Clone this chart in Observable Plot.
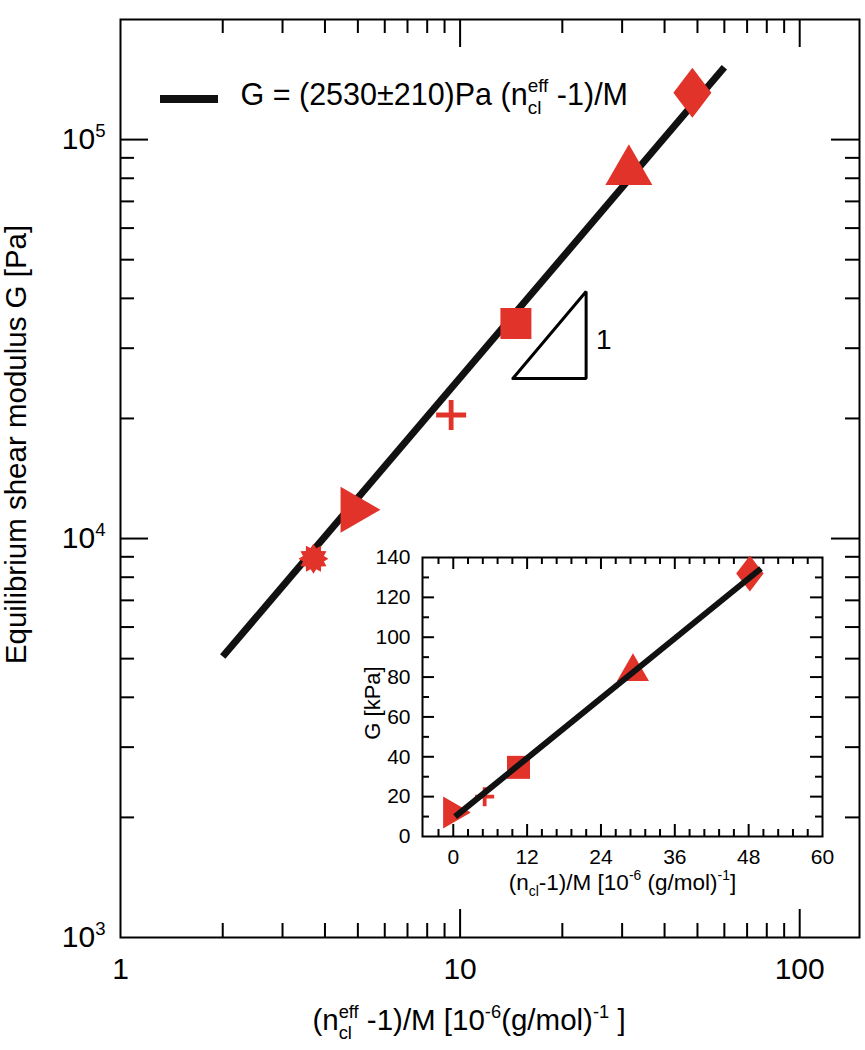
<!DOCTYPE html>
<html>
<head>
<meta charset="utf-8">
<script src="https://cdn.jsdelivr.net/npm/d3@7"></script>
<script src="https://cdn.jsdelivr.net/npm/@observablehq/plot@0.6"></script>
<style>
  html, body { margin: 0; padding: 0; background: white; }
  #root { width: 865px; height: 1050px; }
</style>
</head>
<body>
<div id="root"></div>
<script>
// ---------- data ----------
const mainX = [3.70, 5.09, 9.41, 14.6, 31.4, 48.3];
const mainG = [8900, 11800, 20400, 34600, 86500, 131000];
const mainShapes = ["asterisk", "triRight", "plus", "square", "triUp", "diamond"];

const fitX = [2, 60];
const fitG = [5060, 151800];

const slopeX = [14.3, 23.5, 23.5, 14.3];
const slopeG = [25200, 25200, 41600, 25200];
const slopeLabel = {x: 26.5, y: 31500, text: "1"};

const insetX = [0.6, 5.1, 10.6, 29.2, 48.2];
const insetG = [12, 20, 34.7, 85, 132];
const insetShapes = ["triRight", "plus", "square", "triUp", "diamond"];
const insetFitX = [0.3, 50];
const insetFitG = [10, 134.5];

const xMajor = [10, 100];
const xMinor = [2, 3, 4, 5, 6, 7, 8, 9, 20, 30, 40, 50, 60, 70, 80, 90];
const yMajor = [1e4, 1e5];
const yMinor = [2e3, 3e3, 4e3, 5e3, 6e3, 7e3, 8e3, 9e3, 2e4, 3e4, 4e4, 5e4, 6e4, 7e4, 8e4, 9e4];
const xTickLabels = [1, 10, 100];
const yTickValues = [1e3, 1e4, 1e5];
const yTickLabels = ["10^{3}", "10^{4}", "10^{5}"];

const insetXMajor = [0, 12, 24, 36, 48];
const insetXMinor = [-2.4, 2.4, 4.8, 7.2, 9.6, 14.4, 16.8, 19.2, 21.6, 26.4, 28.8, 31.2, 33.6, 38.4, 40.8, 43.2, 45.6, 50.4, 52.8, 55.2, 57.6];
const insetYMajor = [20, 40, 60, 80, 100, 120];
const insetYMinor = [10, 30, 50, 70, 90, 110, 130];
const insetXLabels = [0, 12, 24, 36, 48, 60];
const insetYLabels = [0, 20, 40, 60, 80, 100, 120, 140];

const legendText = "G = (2530\u00B1210)Pa (n^{eff}_{cl} -1)/M";
const xTitle = "(n^{eff}_{cl} -1)/M [10^{-6}(g/mol)^{-1} ]";
const yTitle = "Equilibrium shear modulus G [Pa]";
const insetXTitle = "(n_{cl}-1)/M [10^{-6} (g/mol)^{-1}]";
const insetYTitle = "G [kPa]";

const RED = "#e2332b";
const FONT = "'Liberation Sans', Arial, Helvetica, sans-serif";

// ---------- custom marker shapes ----------
const sym = {
  tri: {draw(c, size) { const r = Math.sqrt(size / Math.PI); const h = r * 0.866;
    c.moveTo(0, -h); c.lineTo(r, h); c.lineTo(-r, h); c.closePath(); }},
  square: {draw(c, size) { const r = Math.sqrt(size / Math.PI);
    c.moveTo(-r, -r); c.lineTo(r, -r); c.lineTo(r, r); c.lineTo(-r, r); c.closePath(); }},
  diamond: {draw(c, size) { const r = Math.sqrt(size / Math.PI); const w = 0.76 * r;
    c.moveTo(0, -r); c.lineTo(w, 0); c.lineTo(0, r); c.lineTo(-w, 0); c.closePath(); }},
  plusMain: plusSym(0.16),
  plusInset: plusSym(0.2),
  asterisk: {draw(c, size) { const r = Math.sqrt(size / Math.PI); const n = 12;
    for (let i = 0; i < 2 * n; i++) {
      const a = (i * Math.PI) / n - Math.PI / 2;
      const rr = i % 2 === 0 ? r : r * 0.72;
      const px = rr * Math.cos(a), py = rr * Math.sin(a);
      if (i === 0) c.moveTo(px, py); else c.lineTo(px, py);
    }
    c.closePath(); }}
};
function plusSym(t) {
  return {draw(c, size) { const r = Math.sqrt(size / Math.PI); const a = t * r;
    c.moveTo(-a, -r); c.lineTo(a, -r); c.lineTo(a, -a); c.lineTo(r, -a); c.lineTo(r, a);
    c.lineTo(a, a); c.lineTo(a, r); c.lineTo(-a, r); c.lineTo(-a, a); c.lineTo(-r, a);
    c.lineTo(-r, -a); c.lineTo(-a, -a); c.closePath(); }};
}
function markerFor(shape, inset) {
  switch (shape) {
    case "triRight": return {symbol: sym.tri, r: inset ? 16 : 23, rotate: 90};
    case "triUp": return {symbol: sym.tri, r: inset ? 16 : 23.5, rotate: 0};
    case "square": return {symbol: sym.square, r: inset ? 11.5 : 15.5, rotate: 0};
    case "diamond": return {symbol: sym.diamond, r: inset ? 18 : 25, rotate: 0};
    case "plus": return {symbol: inset ? sym.plusInset : sym.plusMain, r: inset ? 9.5 : 15, rotate: 0};
    case "asterisk": return {symbol: sym.asterisk, r: 15, rotate: 0};
  }
}
function dotMarks(xs, ys, shapes, inset) {
  return shapes.map((shape, i) => {
    const m = markerFor(shape, inset);
    return Plot.dot([i], {x: j => xs[j], y: j => ys[j], symbol: m.symbol, r: m.r, rotate: m.rotate, fill: RED, stroke: "none"});
  });
}

// ---------- main chart ----------
const W = 865, H = 1050;
const ML = 120, MR = 6, MT = 19, MB = 113;
const FW = W - ML - MR, FH = H - MT - MB;
const MAJ = 28, MIN = 14;

const chart = Plot.plot({
  width: W, height: H,
  marginLeft: ML, marginRight: MR, marginTop: MT, marginBottom: MB,
  x: {type: "log", domain: [1, 150], axis: null},
  y: {type: "log", domain: [1000, 200000], axis: null},
  style: {fontFamily: FONT, background: "white", color: "black", overflow: "visible"},
  marks: [
    // ticks (inward, all four sides)
    Plot.tickX(xMajor, {x: d => d, insetTop: FH - MAJ, stroke: "black", strokeWidth: 2}),
    Plot.tickX(xMinor, {x: d => d, insetTop: FH - MIN, stroke: "black", strokeWidth: 2}),
    Plot.tickX(xMajor, {x: d => d, insetBottom: FH - MAJ, stroke: "black", strokeWidth: 2}),
    Plot.tickX(xMinor, {x: d => d, insetBottom: FH - MIN, stroke: "black", strokeWidth: 2}),
    Plot.tickY(yMajor, {y: d => d, insetRight: FW - MAJ, stroke: "black", strokeWidth: 2}),
    Plot.tickY(yMinor, {y: d => d, insetRight: FW - MIN, stroke: "black", strokeWidth: 2}),
    Plot.tickY(yMajor, {y: d => d, insetLeft: FW - MAJ, stroke: "black", strokeWidth: 2}),
    Plot.tickY(yMinor, {y: d => d, insetLeft: FW - MIN, stroke: "black", strokeWidth: 2}),
    Plot.frame({stroke: "black", strokeWidth: 2}),
    // tick labels
    Plot.text(xTickLabels, {x: d => d, text: d => String(d), frameAnchor: "bottom", dy: 32, fontSize: 30, lineAnchor: "middle", fill: "black"}),
    Plot.text(yTickValues, {y: d => d, text: (d, i) => yTickLabels[i], frameAnchor: "left", dx: -15, textAnchor: "end", lineAnchor: "middle", fontSize: 30, fill: "black"}),
    // axis titles
    Plot.text([xTitle], {text: d => d, frameAnchor: "bottom", dx: -21, dy: 83, textAnchor: "middle", lineAnchor: "middle", fontSize: 29.5, fill: "black"}),
    Plot.text([yTitle], {text: d => d, frameAnchor: "left", rotate: -90, dx: -104, dy: -34, textAnchor: "middle", lineAnchor: "middle", fontSize: 29.5, fill: "black"}),
    // fit line
    Plot.line(fitX, {x: d => d, y: (d, i) => fitG[i], stroke: "#111", strokeWidth: 7, strokeLinecap: "butt"}),
    // slope triangle
    Plot.line(slopeX, {x: d => d, y: (d, i) => slopeG[i], stroke: "black", strokeWidth: 3, strokeLinejoin: "miter"}),
    Plot.text([slopeLabel], {x: "x", y: "y", text: "text", fontSize: 28, fill: "black"}),
    // data markers
    ...dotMarks(mainX, mainG, mainShapes, false),
    // legend text
    Plot.text([legendText], {text: d => d, frameAnchor: "top-left", dx: 120, dy: 76, textAnchor: "start", lineAnchor: "middle", fontSize: 30.5, fill: "black"})
  ]
});

// ---------- inset chart ----------
const IW = 500, IH = 370, IML = 82, IMR = 18, IMT = 17, IMB = 74;
const IFW = IW - IML - IMR, IFH = IH - IMT - IMB;
const IMAJ = 12, IMIN = 7;
const inset = Plot.plot({
  width: IW, height: IH,
  marginLeft: IML, marginRight: IMR, marginTop: IMT, marginBottom: IMB,
  x: {domain: [-5, 60], axis: null},
  y: {domain: [0, 140], axis: null},
  style: {fontFamily: FONT, color: "black", overflow: "visible", width: IW + "px", height: IH + "px", maxWidth: "none"},
  marks: [
    Plot.frame({fill: "white", stroke: "none"}),
    Plot.tickX(insetXMajor, {x: d => d, insetTop: IFH - IMAJ, stroke: "black", strokeWidth: 2}),
    Plot.tickX(insetXMinor, {x: d => d, insetTop: IFH - IMIN, stroke: "black", strokeWidth: 2}),
    Plot.tickX(insetXMajor, {x: d => d, insetBottom: IFH - IMAJ, stroke: "black", strokeWidth: 2}),
    Plot.tickX(insetXMinor, {x: d => d, insetBottom: IFH - IMIN, stroke: "black", strokeWidth: 2}),
    Plot.tickY(insetYMajor, {y: d => d, insetRight: IFW - IMAJ, stroke: "black", strokeWidth: 2}),
    Plot.tickY(insetYMinor, {y: d => d, insetRight: IFW - IMIN, stroke: "black", strokeWidth: 2}),
    Plot.tickY(insetYMajor, {y: d => d, insetLeft: IFW - IMAJ, stroke: "black", strokeWidth: 2}),
    Plot.tickY(insetYMinor, {y: d => d, insetLeft: IFW - IMIN, stroke: "black", strokeWidth: 2}),
    Plot.frame({stroke: "black", strokeWidth: 2}),
    Plot.text(insetXLabels, {x: d => d, text: d => String(d), frameAnchor: "bottom", dy: 21, lineAnchor: "middle", fontSize: 21, fill: "black"}),
    Plot.text(insetYLabels, {y: d => d, text: d => String(d), frameAnchor: "left", dx: -12, textAnchor: "end", lineAnchor: "middle", fontSize: 21, fill: "black"}),
    Plot.text([insetXTitle], {text: d => d, frameAnchor: "bottom", dy: 46, textAnchor: "middle", lineAnchor: "middle", fontSize: 22.5, fill: "black"}),
    Plot.text([insetYTitle], {text: d => d, frameAnchor: "left", rotate: -90, dx: -50, dy: 6, textAnchor: "middle", lineAnchor: "middle", fontSize: 22, fill: "black"}),
    ...dotMarks(insetX, insetG, insetShapes, true),
    Plot.line(insetFitX, {x: d => d, y: (d, i) => insetFitG[i], stroke: "#111", strokeWidth: 6, strokeLinecap: "butt"})
  ]
});
inset.setAttribute("x", 340);
inset.setAttribute("y", 540);
chart.appendChild(inset);

// legend swatch
const NS = "http://www.w3.org/2000/svg";
const sw = document.createElementNS(NS, "line");
sw.setAttribute("x1", 160); sw.setAttribute("x2", 218);
sw.setAttribute("y1", 99); sw.setAttribute("y2", 99);
sw.setAttribute("stroke", "#111"); sw.setAttribute("stroke-width", 8);
chart.appendChild(sw);

document.getElementById("root").appendChild(chart);

// ---------- rich text: ^{sup} and _{sub} ----------
function richify(root) {
  root.querySelectorAll("text").forEach(t => {
    const s = t.textContent;
    if (!/[\^_]\{/.test(s)) return;
    const fs = parseFloat(getComputedStyle(t).fontSize) || 20;
    const small = fs * 0.62;
    const up = -fs * 0.42, down = fs * 0.3;
    const parts = s.split(/(\^\{[^}]*\}|_\{[^}]*\})/).filter(p => p !== "");
    while (t.firstChild) t.removeChild(t.firstChild);
    let shift = 0, pendingDx = 0, i = 0;
    const add = (text, size, dy, dx) => {
      const ts = document.createElementNS(NS, "tspan");
      ts.textContent = text;
      ts.setAttribute("font-size", size);
      if (dy) ts.setAttribute("dy", dy);
      if (dx) ts.setAttribute("dx", dx);
      t.appendChild(ts);
      return ts;
    };
    const isScript = p => p && (p.startsWith("^{") || p.startsWith("_{"));
    while (i < parts.length) {
      const p = parts[i];
      if (isScript(p)) {
        const target = p[0] === "^" ? up : down;
        const a = add(p.slice(2, -1), small, target - shift, pendingDx);
        pendingDx = 0;
        shift = target;
        const next = parts[i + 1];
        if (isScript(next) && next[0] !== p[0]) {
          const wA = a.getComputedTextLength();
          const target2 = next[0] === "^" ? up : down;
          const b = add(next.slice(2, -1), small, target2 - shift, -wA);
          shift = target2;
          const wB = b.getComputedTextLength();
          pendingDx = Math.max(0, wA - wB);
          i += 2;
        } else i++;
      } else {
        add(p, fs, -shift, pendingDx);
        shift = 0; pendingDx = 0; i++;
      }
    }
  });
}
richify(chart);
</script>
</body>
</html>
